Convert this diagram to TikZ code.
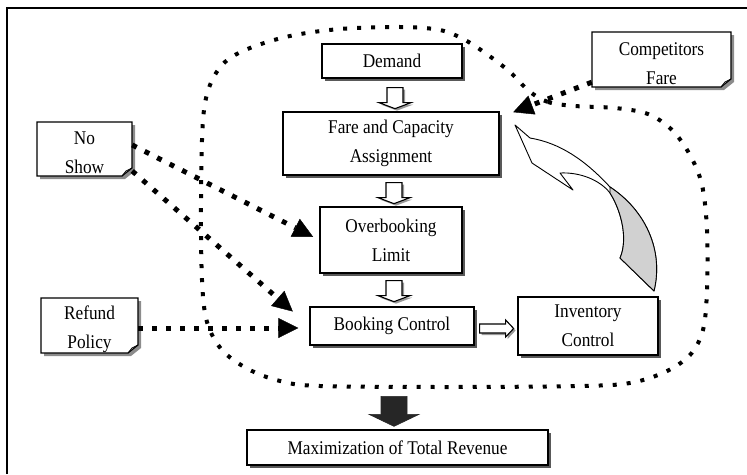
\documentclass[tikz,border=0pt]{standalone}
\usepackage{fontspec}
\setmainfont{Liberation Serif}[FakeStretch=0.89]
\usetikzlibrary{shadows,arrows.meta,calc}
\newcommand\notebox[6]{%
 \fill[black!45] ({#2-#4/2+3},{#3-#5/2+3}) -- ({#2+#4/2+3},{#3-#5/2+3}) -- ({#2+#4/2+3},{#3+#5/2-5}) -- ({#2+#4/2-7},{#3+#5/2+3}) -- ({#2-#4/2+3},{#3+#5/2+3}) -- cycle;
 \filldraw[fill=white, line width=1.1pt] ({#2-#4/2},{#3-#5/2}) -- ({#2+#4/2},{#3-#5/2}) -- ({#2+#4/2},{#3+#5/2-8}) -- ({#2+#4/2-10},{#3+#5/2}) -- ({#2-#4/2},{#3+#5/2}) -- cycle;
 \draw[line width=0.8pt] ({#2+#4/2-10},{#3+#5/2}) -- ({#2+#4/2-6},{#3+#5/2-5}) -- ({#2+#4/2},{#3+#5/2-8});
 \node[minimum width=#4pt, minimum height=#5pt, inner sep=0pt] (#1) at (#2,#3) {};
 \node[txt] (#1-t) at (#2,{#3+4}) {#6};
}
\tikzset{
 box/.style={draw, line width=1.3pt, fill=white, align=center, inner sep=0pt,
   font=\fontsize{19.4}{29}\selectfont,
   drop shadow={shadow xshift=3pt, shadow yshift=-3pt, fill=black!65, opacity=1}},
 txt/.style={align=center, inner sep=0pt, font=\fontsize{19.4}{29}\selectfont},
 loopline/.style={line width=4pt, dash pattern=on 4pt off 10pt},
 bigdot/.style={line width=5pt, dash pattern=on 5pt off 9pt,
   -{Triangle[length=20pt,width=20pt,line width=0.4pt]}},
 hollow/.style={draw, fill=white, line width=1.1pt, line join=miter,
   drop shadow={shadow xshift=2pt, shadow yshift=-2pt, fill=black!40, opacity=1}},
 solidarr/.style={fill=black!85, draw=black!85, line width=0.6pt},
 frame/.style={line width=1.6pt},
}
\begin{document}
\begin{tikzpicture}[x=1pt, y=-1pt]
\useasboundingbox (0,0) rectangle (747,474);
\draw[frame] (7,474) -- (7,8) -- (747,8);

% dotted feedback loop
\draw[loopline] plot[smooth cycle, tension=0.55] coordinates {
 (529,91) (548,102) (575,106) (615,108) (648,114) (672,130) (690,155) (702,185)
 (707,230) (707,290) (703,330) (690,355) (665,372) (630,383) (580,386) (450,387)
 (320,386) (280,381) (248,369) (222,350) (207,322) (202,280) (201,200) (203,120)
 (210,85) (225,62) (250,48) (290,36) (340,29) (400,27) (440,30) (465,40) (488,55) (510,72)};

% boxes
\node[box, minimum width=140pt, minimum height=34pt] (dem) at (392,61) {Demand};
\node[box, minimum width=216pt, minimum height=63pt] (fare) at (391,143.5) {Fare and Capacity\\Assignment};
\node[box, minimum width=142pt, minimum height=66pt] (over) at (391,240) {Overbooking\\Limit};
\node[box, minimum width=164pt, minimum height=38pt] (book) at (392,326) {Booking Control};
\node[box, minimum width=140pt, minimum height=58pt] (inv) at (588,326) {Inventory\\Control};
\node[box, minimum width=301pt, minimum height=35pt] (maxr) at (397.5,447.5) {Maximization of Total Revenue};

% notes
\notebox{nos}{84.5}{149}{95}{54}{No\\Show}
\notebox{ref}{89.5}{325.5}{97}{55}{Refund\\Policy}
\notebox{comp}{661.5}{59.5}{139}{55}{Competitors\\Fare}

% hollow block arrows
\draw[hollow] ($(dem.south)+(3,9)$) ++(-8,0) -- ++(16,0) -- ++(0,15) -- ++(8,0) -- ++(-16,6) -- ++(-16,-6) -- ++(8,0) -- cycle;
\draw[hollow] ($(fare.south)+(3,7)$) ++(-8,0) -- ++(16,0) -- ++(0,15) -- ++(8,0) -- ++(-16,6) -- ++(-16,-6) -- ++(8,0) -- cycle;
\draw[hollow] ($(over.south)+(3,7)$) ++(-8,0) -- ++(16,0) -- ++(0,15) -- ++(8,0) -- ++(-16,6) -- ++(-16,-6) -- ++(8,0) -- cycle;
\draw[hollow] ($(book.east)+(5,-2)$) -- ++(26,0) -- ++(0,-4) -- ++(8,8.5) -- ++(-8,8.5) -- ++(0,-4) -- ++(-26,0) -- cycle;
% solid arrow to result
\draw[solidarr] ($(maxr.north)+(-3.5,-33)$) ++(-13,0) -- ++(26,0) -- ++(0,18) -- ++(12,0) -- ++(-25,12) -- ++(-25,-12) -- ++(12,0) -- cycle;

% curved arrow from inventory control back to fare assignment
\filldraw[fill=white, line width=0.9pt, line join=round] (515,125) -- (532,163) -- (573,190) -- (560,173)
  .. controls (580,172) and (600,180) .. (610,193)
  .. controls (622,212) and (628,240) .. (620,258) -- (654,291)
  .. controls (664,250) and (645,210) .. (610,187)
  .. controls (585,160) and (560,143) .. (530,138) -- cycle;
\filldraw[fill=black!18, line width=0.9pt, line join=round] (610,193)
  .. controls (622,212) and (628,240) .. (620,258) -- (654,291)
  .. controls (664,250) and (645,210) .. (610,187) -- cycle;

% influence connectors
\draw[bigdot, shorten >=7pt] ([yshift=4pt]nos.east) -- (over.west);
\draw[bigdot, shorten >=22pt] ([yshift=-22pt]nos.east) -- (book.west);
\draw[bigdot, shorten >=11pt] ([yshift=-2.5pt]ref.east) -- ([yshift=-2pt]book.west);
\draw[bigdot, shorten >=14.5pt] ([yshift=5pt]comp.south west) -- ([yshift=-6pt]fare.north east);
\end{tikzpicture}
\end{document}
